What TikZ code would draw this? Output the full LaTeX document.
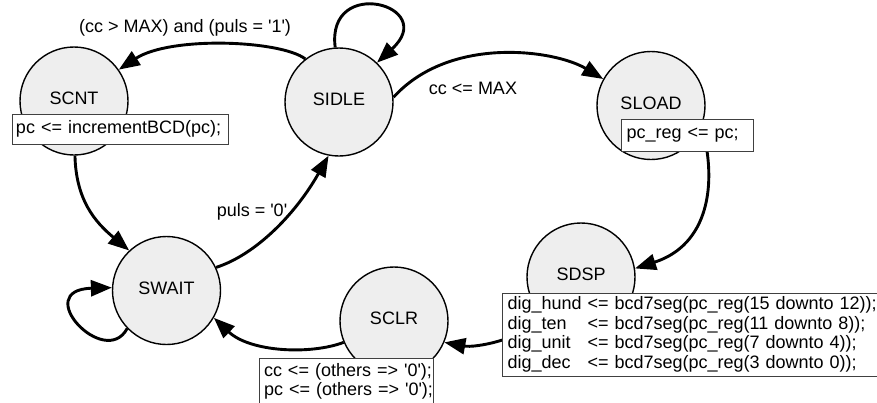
\documentclass[tikz,border=0pt]{standalone}
\usepackage{fontspec}
\setmainfont{Liberation Sans}[Ligatures=TeXOff]
\usetikzlibrary{arrows.meta}
\definecolor{stfill}{RGB}{238,238,238}
\newlength\dgw
\begin{document}
\begin{tikzpicture}[x=1pt,y=-1pt,
  every node/.style={font=\fontsize{18}{19.5}\selectfont},
  state/.style={circle, draw=black, line width=1.4pt, fill=stfill, minimum size=108pt,
    inner sep=0pt, text height=13pt, text depth=6pt},
  act/.style={draw=black!75, line width=1pt, fill=white, align=left, inner ysep=0pt},
  edge/.style={line width=2.9pt, -{Triangle[length=21pt,width=16pt]}},
  lab/.style={inner sep=0pt}]
\useasboundingbox (0,0) rectangle (877,402);
% states
\node[state] (SCNT)  at (74,101)    {SCNT};
\node[state] (SIDLE) at (339,102)   {SIDLE};
\node[state] (SLOAD) at (651,105.5) {SLOAD};
\node[state] (SDSP)  at (581,277)   {SDSP};
\node[state] (SWAIT) at (166.5,290.5) {SWAIT};
\node[state] (SCLR)  at (394,321)   {SCLR};
% transitions
\draw[edge] (SIDLE.128) .. controls (280,40) and (170,36) .. (SCNT.35);
\draw[edge] (SIDLE.94) .. controls (326,-25) and (440,5) .. (SIDLE.46);
\draw[edge] (SIDLE.5) .. controls (450,35) and (555,50) .. (SLOAD.151);
\draw[edge] (SLOAD.-22) .. controls (718,185) and (708,245) .. (SDSP.9);
\draw[edge] (SDSP.228) .. controls (520,340) and (475,348) .. (SCLR.-23);
\draw[edge] (SCLR.203) .. controls (310,355) and (250,352) .. (SWAIT.-30);
\draw[edge] (SWAIT.224) .. controls (105,370) and (30,290) .. (SWAIT.177);
\draw[edge] (SCNT.-89) .. controls (76,200) and (95,222) .. (SWAIT.133);
\draw[edge] (SWAIT.25) .. controls (255,255) and (295,215) .. (SIDLE.259);
% labels
\node[lab] (l1) at (185,28)   {(cc > MAX) and (puls = '1')};
\node[lab] (l2) at (473,88.5) {cc <= MAX};
\node[lab] (l3) at (252,212)  {puls = '0'};
% action boxes
\node[act, inner xsep=4pt, text width=208pt, minimum height=30pt] (aSCNT) at (120,129)
  {\mbox{pc <= incrementBCD(pc);}};
\node[act, inner xsep=5.5pt, text width=121pt, minimum height=32pt] (aSLOAD) at (687,135)
  {\mbox{pc\_reg <= pc;}};
\node[act, inner xsep=5.5pt, text width=364.5pt, minimum height=83pt] (aSDSP) at (689.75,334.5)
  {\settowidth{\dgw}{dig\_hund\ }%
   \mbox{dig\_hund <= bcd7seg(pc\_reg(15 downto 12));}\\
   \mbox{\makebox[\dgw][l]{dig\_ten}<= bcd7seg(pc\_reg(11 downto 8));}\\
   \mbox{\makebox[\dgw][l]{dig\_unit}<= bcd7seg(pc\_reg(7 downto 4));}\\
   \mbox{\makebox[\dgw][l]{dig\_dec}<= bcd7seg(pc\_reg(3 downto 0));}};
\node[act, inner xsep=5pt, text width=164pt, minimum height=47pt] (aSCLR) at (346,381.5)
  {\mbox{cc <= (others => '0');}\\
   \mbox{pc <= (others => '0');}};
\end{tikzpicture}
\end{document}
